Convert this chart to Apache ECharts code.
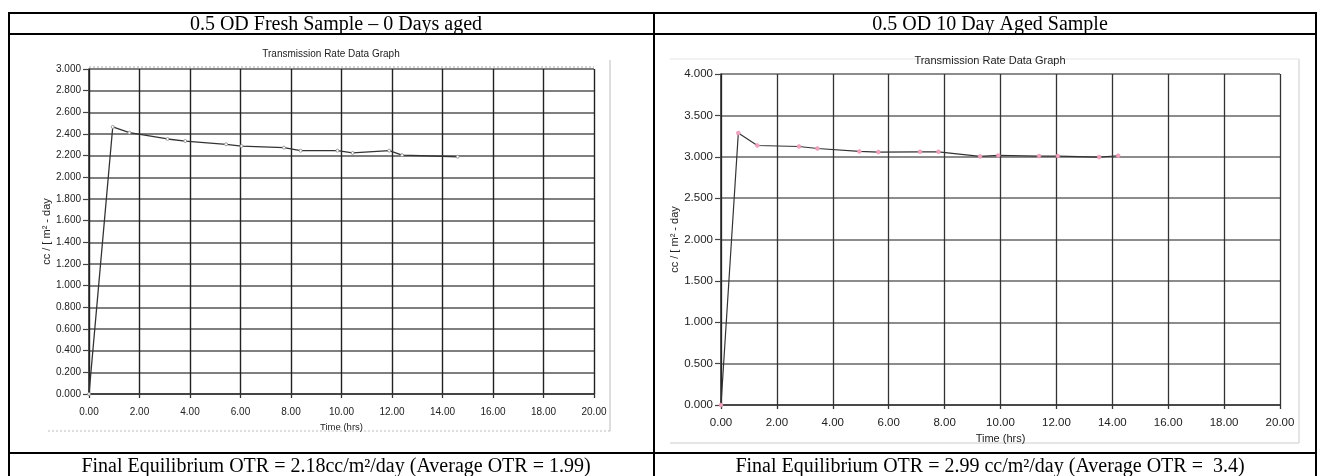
<!DOCTYPE html>
<html>
<head>
<meta charset="utf-8">
<script src="https://cdn.jsdelivr.net/npm/echarts@6/dist/echarts.min.js"></script>
<style>
html,body{margin:0;padding:0;background:#fff;}
#chart{width:1320px;height:476px;}
</style>
</head>
<body>
<div id="chart"></div>
<script>
// ---- data ----
const headerLeft = '0.5 OD Fresh Sample \u2013 0 Days aged';
const headerRight = '0.5 OD 10 Day Aged Sample';
const footerLeft = 'Final Equilibrium OTR = 2.18cc/m\u00b2/day (Average OTR = 1.99)';
const footerRight = 'Final Equilibrium OTR = 2.99 cc/m\u00b2/day (Average OTR =  3.4)';
const graphTitle = 'Transmission Rate Data Graph';
const yAxisName = 'cc / [ m\u00b2 - day';
const xAxisName = 'Time (hrs)';

const freshHours = [0, 0.94, 1.60, 3.11, 3.81, 5.43, 6.04, 7.72, 8.38, 9.84, 10.44, 11.89, 12.40, 14.60];
const freshOTR   = [0, 2.465, 2.412, 2.354, 2.335, 2.305, 2.289, 2.274, 2.246, 2.246, 2.225, 2.246, 2.205, 2.190];

const agedHours = [0, 0.62, 1.30, 2.79, 3.45, 4.95, 5.63, 7.12, 7.78, 9.27, 9.92, 11.38, 12.05, 13.53, 14.21];
const agedOTR   = [0, 3.286, 3.136, 3.124, 3.100, 3.064, 3.056, 3.060, 3.060, 3.004, 3.016, 3.008, 3.008, 2.996, 3.012];

const xTicks = {min: 0, max: 20, interval: 2};
const yTicksFresh = {min: 0, max: 3, interval: 0.2};
const yTicksAged = {min: 0, max: 4, interval: 0.5};

// ---- build ----
const chart = echarts.init(document.getElementById('chart'), null, {renderer: 'canvas'});
const sans = 'Liberation Sans, Arial, sans-serif';
const serif = 'Liberation Serif, Times New Roman, serif';

function pairs(xs, ys){ return xs.map((x,i)=>[x, ys[i]]); }

function xAxis(gridIndex, fs, margin, gap, vColor, vWidth){
  return {
    type: 'value', gridIndex, min: xTicks.min, max: xTicks.max, interval: xTicks.interval,
    name: xAxisName, nameLocation: 'middle', nameGap: gap,
    nameTextStyle: {fontFamily: sans, fontSize: fs - 0.5, color: '#222'},
    axisLine: {show: true, onZero: false, lineStyle: {color: '#333', width: 1.5}},
    axisTick: {show: true, length: 4, lineStyle: {color: '#333', width: 1.3}},
    axisLabel: {fontFamily: sans, fontSize: fs, color: '#222', margin: margin,
      formatter: v => v.toFixed(2)},
    splitLine: {show: true, lineStyle: {color: vColor, width: vWidth}}
  };
}
function yAxis(gridIndex, t, fs, margin, gap, hColor){
  return {
    type: 'value', gridIndex, min: t.min, max: t.max, interval: t.interval,
    name: yAxisName, nameLocation: 'middle', nameGap: gap, nameRotate: 90,
    nameTextStyle: {fontFamily: sans, fontSize: 11, color: '#222'},
    axisLine: {show: true, lineStyle: {color: '#222', width: 1.5}},
    axisTick: {show: true, length: 6, lineStyle: {color: '#444', width: 1.2}},
    axisLabel: {fontFamily: sans, fontSize: fs, color: '#222', margin: margin,
      formatter: v => v.toFixed(3)},
    splitLine: {show: true, lineStyle: {color: hColor, width: 1.6}}
  };
}

function line(x, y, w, h, c, wd, dash){
  return {type: 'line', shape: {x1: x, y1: y, x2: x + w, y2: y + h},
    style: {stroke: c, lineWidth: wd, lineDash: dash || null}, silent: true};
}

const option = {
  animation: false,
  backgroundColor: '#fff',
  title: [
    {text: headerLeft, left: 331, top: 10, textAlign: 'center',
      textStyle: {fontFamily: serif, fontSize: 20, fontWeight: 'normal', color: '#000'}},
    {text: headerRight, left: 985, top: 10, textAlign: 'center',
      textStyle: {fontFamily: serif, fontSize: 20, fontWeight: 'normal', color: '#000'}},
    {text: footerLeft, left: 331, top: 452, textAlign: 'center',
      textStyle: {fontFamily: serif, fontSize: 20, fontWeight: 'normal', color: '#000'}},
    {text: footerRight, left: 985, top: 452, textAlign: 'center',
      textStyle: {fontFamily: serif, fontSize: 20, fontWeight: 'normal', color: '#000'}},
    {text: graphTitle, left: 326, top: 44, textAlign: 'center',
      textStyle: {fontFamily: sans, fontSize: 10, fontWeight: 'normal', color: '#222'}},
    {text: graphTitle, left: 985, top: 50, textAlign: 'center',
      textStyle: {fontFamily: sans, fontSize: 11, fontWeight: 'normal', color: '#222'}}
  ],
  grid: [
    {left: 89, top: 69, width: 505, height: 325, containLabel: false},
    {left: 721, top: 74, width: 559, height: 331, containLabel: false}
  ],
  xAxis: [
    xAxis(0, 10, 13, 19, '#222', 1.4),
    xAxis(1, 11.5, 12, 21, '#333', 1.3)
  ],
  yAxis: [
    yAxis(0, yTicksFresh, 10, 8, 34, '#555'),
    yAxis(1, yTicksAged, 11.5, 8, 35, '#666')
  ],
  series: [
    {type: 'line', xAxisIndex: 0, yAxisIndex: 0, data: pairs(freshHours, freshOTR),
      symbol: 'circle', symbolSize: 3, showSymbol: true,
      lineStyle: {color: '#333', width: 1.3},
      itemStyle: {color: '#fff', borderColor: '#888', borderWidth: 0.8}},
    {type: 'line', xAxisIndex: 1, yAxisIndex: 1, data: pairs(agedHours, agedOTR),
      symbol: 'circle', symbolSize: 4, showSymbol: true,
      lineStyle: {color: '#333', width: 1.2},
      itemStyle: {color: '#f0a3bf', borderColor: '#e98fb0', borderWidth: 0.5}}
  ],
  graphic: [
    // table borders
    line(8, 13, 1309, 0, '#000', 2),
    line(8, 34, 1309, 0, '#000', 2),
    line(8, 453, 1309, 0, '#000', 2),
    line(9, 12, 0, 470, '#000', 2),
    line(654, 12, 0, 470, '#000', 2),
    line(1316, 12, 0, 470, '#000', 2),
    // scanned frames
    line(610, 60, 0, 371, '#bbb', 1),
    line(48, 431, 562, 0, '#bbb', 1, [2, 2]),
    line(89, 67, 505, 0, '#aaa', 1, [2, 2]),
    line(1299, 59, 0, 384, '#ccc', 1),
    line(670, 443, 629, 0, '#ccc', 1),
    line(670, 59, 629, 0, '#e4e4e4', 1)
  ]
};
chart.setOption(option);
</script>
</body>
</html>
